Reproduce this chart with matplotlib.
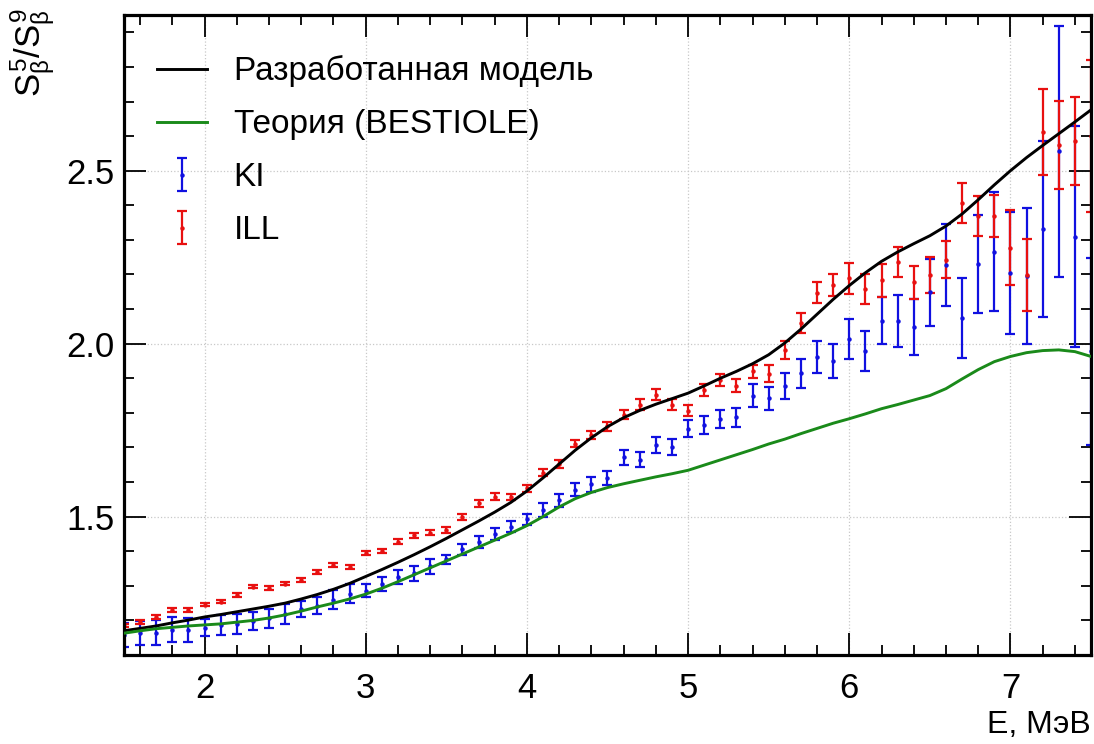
import numpy as np
import matplotlib
matplotlib.use("Agg")
import matplotlib.pyplot as plt
from matplotlib.ticker import MultipleLocator

plt.rcParams['font.family'] = ['Liberation Sans', 'DejaVu Sans']
plt.rcParams['mathtext.fontset'] = 'custom'
plt.rcParams['mathtext.rm'] = 'Liberation Sans'
plt.rcParams['mathtext.it'] = 'Liberation Sans'
plt.rcParams['mathtext.bf'] = 'Liberation Sans:bold'

# Energy grid (MeV)
energy = np.round(np.arange(1.5, 7.51, 0.1), 1)

# Developed model
model = [1.170, 1.177, 1.184, 1.193, 1.201, 1.210, 1.217, 1.225, 1.233, 1.241,
         1.250, 1.262, 1.275, 1.290, 1.307, 1.327, 1.347, 1.368, 1.390, 1.413,
         1.437, 1.462, 1.487, 1.513, 1.541, 1.574, 1.612, 1.652, 1.692, 1.728,
         1.760, 1.786, 1.807, 1.825, 1.841, 1.857, 1.878, 1.900, 1.920, 1.942,
         1.968, 2.002, 2.042, 2.085, 2.128, 2.168, 2.205, 2.238, 2.265, 2.289,
         2.312, 2.340, 2.375, 2.416, 2.459, 2.500, 2.538, 2.573, 2.607, 2.641,
         2.676]

# BESTIOLE theory
theory = [1.163, 1.170, 1.176, 1.180, 1.184, 1.187, 1.190, 1.195, 1.200, 1.207,
          1.216, 1.227, 1.239, 1.250, 1.262, 1.276, 1.293, 1.312, 1.332, 1.352,
          1.372, 1.392, 1.412, 1.432, 1.452, 1.474, 1.500, 1.528, 1.552, 1.570,
          1.584, 1.595, 1.605, 1.615, 1.624, 1.634, 1.649, 1.664, 1.679, 1.694,
          1.710, 1.724, 1.740, 1.755, 1.770, 1.783, 1.797, 1.812, 1.824, 1.837,
          1.850, 1.870, 1.898, 1.925, 1.948, 1.963, 1.974, 1.980, 1.982, 1.977,
          1.963]

# KI measurement
ki = [1.158, 1.163, 1.165, 1.173, 1.173, 1.179, 1.187, 1.190, 1.199, 1.206,
      1.219, 1.234, 1.243, 1.260, 1.277, 1.286, 1.306, 1.326, 1.336, 1.356,
      1.377, 1.406, 1.426, 1.450, 1.471, 1.493, 1.519, 1.547, 1.578, 1.593,
      1.612, 1.672, 1.665, 1.707, 1.701, 1.754, 1.764, 1.782, 1.787, 1.849,
      1.842, 1.877, 1.915, 1.962, 1.950, 2.014, 1.978, 2.066, 2.066, 2.047,
      2.148, 2.228, 2.074, 2.230, 2.266, 2.205, 2.196, 2.332, 2.556, 2.309,
      1.978]
ki_err = [0.035, 0.034, 0.035, 0.036, 0.034, 0.025, 0.029, 0.029, 0.026, 0.028,
          0.028, 0.023, 0.024, 0.028, 0.027, 0.019, 0.020, 0.020, 0.022, 0.022,
          0.013, 0.016, 0.017, 0.017, 0.016, 0.016, 0.019, 0.018, 0.019, 0.022,
          0.020, 0.022, 0.022, 0.023, 0.024, 0.024, 0.026, 0.027, 0.028, 0.033,
          0.034, 0.037, 0.042, 0.047, 0.050, 0.058, 0.058, 0.068, 0.076, 0.081,
          0.097, 0.119, 0.115, 0.142, 0.171, 0.176, 0.197, 0.254, 0.362, 0.320,
          0.270]

# ILL measurement
ill = [1.185, 1.195, 1.210, 1.230, 1.230, 1.246, 1.254, 1.274, 1.298, 1.294,
       1.306, 1.318, 1.341, 1.360, 1.355, 1.394, 1.401, 1.427, 1.446, 1.454,
       1.462, 1.499, 1.538, 1.558, 1.557, 1.582, 1.627, 1.653, 1.711, 1.735,
       1.761, 1.795, 1.824, 1.852, 1.824, 1.806, 1.866, 1.895, 1.879, 1.920,
       1.913, 1.982, 2.060, 2.147, 2.170, 2.189, 2.158, 2.183, 2.236, 2.177,
       2.198, 2.243, 2.407, 2.369, 2.369, 2.278, 2.199, 2.612, 2.575, 2.585,
       2.600]
ill_err = [0.005, 0.005, 0.005, 0.005, 0.005, 0.005, 0.005, 0.005, 0.005, 0.005,
           0.005, 0.006, 0.006, 0.006, 0.006, 0.006, 0.006, 0.007, 0.007, 0.007,
           0.008, 0.008, 0.009, 0.009, 0.009, 0.010, 0.010, 0.011, 0.011, 0.012,
           0.013, 0.014, 0.015, 0.016, 0.016, 0.016, 0.017, 0.018, 0.019, 0.019,
           0.024, 0.027, 0.029, 0.030, 0.031, 0.044, 0.044, 0.047, 0.044, 0.047,
           0.052, 0.054, 0.058, 0.058, 0.061, 0.107, 0.104, 0.125, 0.127, 0.127,
           0.220]

fig = plt.figure(figsize=(10.94, 7.44), dpi=100)
ax = fig.add_axes([0.1133, 0.1196, 0.8840, 0.8602])

eb_kw = dict(fmt='o', ms=2.2, elinewidth=1.6, capsize=3.4, capthick=1.6,
             linestyle='none', zorder=2)
line_model, = ax.plot(energy, model, color='black', lw=2.1, zorder=3)
line_theory, = ax.plot(energy, theory, color='#1a8a1a', lw=2.1, zorder=3)
eb_ki = ax.errorbar(energy, ki, yerr=ki_err, color='#1010e0', **eb_kw)
eb_ill = ax.errorbar(energy, ill, yerr=ill_err, color='#e81010', **eb_kw)

ax.set_xlim(1.5, 7.5)
ax.set_ylim(1.1, 2.95)
ax.xaxis.set_major_locator(MultipleLocator(1))
ax.xaxis.set_minor_locator(MultipleLocator(0.2))
ax.yaxis.set_major_locator(MultipleLocator(0.5))
ax.yaxis.set_minor_locator(MultipleLocator(0.1))
ax.grid(True, which='major', color='#c8c8c8', linestyle=':', linewidth=0.9)

ax.tick_params(which='both', direction='in', top=True, right=True, width=1.3)
ax.tick_params(which='major', length=16, labelsize=25)
ax.tick_params(which='minor', length=7.5)
ax.tick_params(axis='x', which='major', pad=12)
ax.tick_params(axis='y', which='major', pad=7)
for sp in ax.spines.values():
    sp.set_linewidth(2.3)

fig.text(0.031, 0.990, r'$S_{\beta}^{5}/S_{\beta}^{9}$', rotation=90,
         ha='center', va='top', fontsize=25)
fig.text(0.997, 0.006, 'E, МэВ', ha='right', va='bottom', fontsize=23)

ax.legend([line_model, line_theory, eb_ki, eb_ill],
          ['Разработанная модель', 'Теория (BESTIOLE)', 'KI', 'ILL'],
          loc='upper left', bbox_to_anchor=(0.003, 0.984), frameon=False,
          fontsize=24, handlelength=1.5, handletextpad=0.8, labelspacing=0.66)

fig.savefig('out.png', dpi=100)
